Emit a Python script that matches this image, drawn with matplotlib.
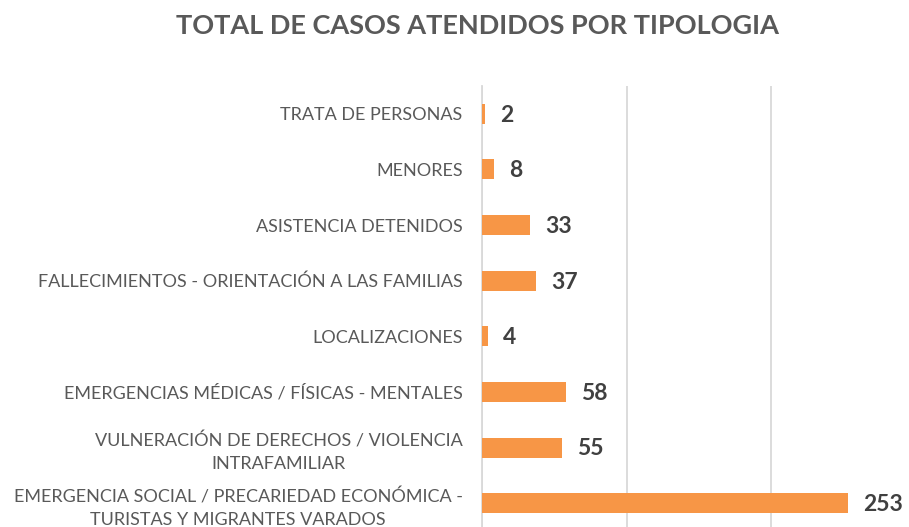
import matplotlib.pyplot as plt

categorias = [
    "TRATA DE PERSONAS",
    "MENORES",
    "ASISTENCIA DETENIDOS",
    "FALLECIMIENTOS - ORIENTACIÓN A LAS FAMILIAS",
    "LOCALIZACIONES",
    "EMERGENCIAS MÉDICAS / FÍSICAS - MENTALES",
    "VULNERACIÓN DE DERECHOS / VIOLENCIA\nINTRAFAMILIAR",
    "EMERGENCIA SOCIAL / PRECARIEDAD ECONÓMICA -\nTURISTAS Y MIGRANTES VARADOS",
]
casos = [2, 8, 33, 37, 4, 58, 55, 253]
titulo = "TOTAL DE CASOS ATENDIDOS POR TIPOLOGIA"

plt.rcParams['font.family'] = ['Lato', 'DejaVu Sans']

fig = plt.figure(figsize=(9.09, 5.27), dpi=100)
ax = fig.add_axes([482 / 909, -4 / 527, 434 / 909, 445 / 527])

pos = list(range(len(categorias)))
ax.barh(pos, casos, height=0.36, color='#F79646', zorder=3)
ax.set_ylim(len(categorias) - 0.5, -0.5)
ax.set_xlim(0, 300)
ax.set_xticks([0, 100, 200, 300])
ax.set_xticklabels([])
ax.tick_params(axis='both', length=0)
ax.grid(axis='x', color='#D9D9D9', linewidth=1.3, zorder=0)
for s in ['top', 'right', 'bottom']:
    ax.spines[s].set_visible(False)
ax.spines['left'].set_color('#D9D9D9')
ax.spines['left'].set_linewidth(1.3)

ax.set_yticks(pos)
ax.set_yticklabels(categorias, fontsize=13, color='#595959', ha='right',
                   linespacing=1.5)
for t in ax.get_yticklabels():
    t.set_multialignment('center')
ax.tick_params(axis='y', pad=14)

for i, v in enumerate(casos):
    ax.annotate(str(v), (v, i), xytext=(11, -1), textcoords='offset points',
                va='center', ha='left', fontsize=16.5, fontweight='bold',
                color='#404040')

fig.text(478 / 909, 1 - 26 / 527, titulo, ha='center', va='center',
         fontsize=19.5, fontweight='bold', color='#595959')

fig.savefig('out.png', dpi=100)
